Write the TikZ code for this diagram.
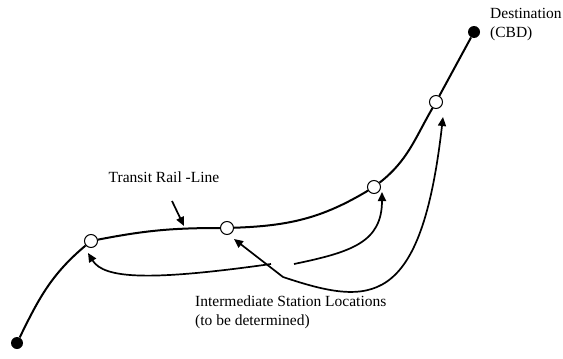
\documentclass[tikz,border=0pt]{standalone}
\usepackage{fontspec}
\setmainfont{Liberation Serif}
\usetikzlibrary{arrows.meta}
\begin{document}
\begin{tikzpicture}[x=1pt,y=1pt,
  station/.style={circle,draw,fill=white,line width=1pt,minimum size=13pt,inner sep=0pt},
  terminal/.style={circle,fill=black,minimum size=12pt,inner sep=0pt},
  rail/.style={line width=2pt},
  pointer/.style={line width=1.7pt,-{Triangle[length=9pt,width=8pt]}},
  twoway/.style={line width=1.7pt,{Triangle[length=9pt,width=8pt]}-{Triangle[length=9pt,width=8pt]}},
  lbl/.style={font=\fontsize{15.5}{19}\selectfont,align=left,inner sep=0pt}]
\useasboundingbox (0,-359) rectangle (563,0);
% rail-line nodes
\node[terminal] (orig) at (17,-343) {};
\node[station] (s1) at (91,-241) {};
\node[station] (s2) at (227,-228) {};
\node[station] (s3) at (374,-187) {};
\node[station] (s4) at (436,-102) {};
\node[terminal] (dest) at (474,-32) {};
% rail line
\draw[rail] (orig) to[out=64,in=220] (s1) to[out=11,in=180] (s2)
  to[out=2,in=211] (s3) to[out=38,in=240] (s4) -- (dest);
% labels
\node[lbl,anchor=west] (destlbl) at (490,-25) {Destination\\(CBD)};
\node[lbl] (raillbl) at (164,-177) {Transit Rail -Line};
\node[lbl,anchor=west] (stlbl) at (195,-312) {Intermediate Station Locations\\(to be determined)};
% pointer to rail line
\coordinate (ta) at (172,-201);
\coordinate (tb) at (184,-226);
\draw[pointer] (ta) -- (tb);
% pointers to stations
\coordinate (aA) at (271,-264);
\draw[pointer] (aA) .. controls (150,-281) and (104,-279) .. ([shift={(-3,-12)}]s1.center);
\coordinate (aB) at (294,-264);
\draw[pointer] (aB) .. controls (352,-252) and (382,-242) .. ([shift={(8,-5)}]s3.center);
\coordinate (aC) at (283,-277);
\draw[twoway] ([shift={(7,-11)}]s2.center) -- (aC) .. controls (370,-306) and (421,-310) .. ([shift={(7,-15)}]s4.center);
\end{tikzpicture}
\end{document}
